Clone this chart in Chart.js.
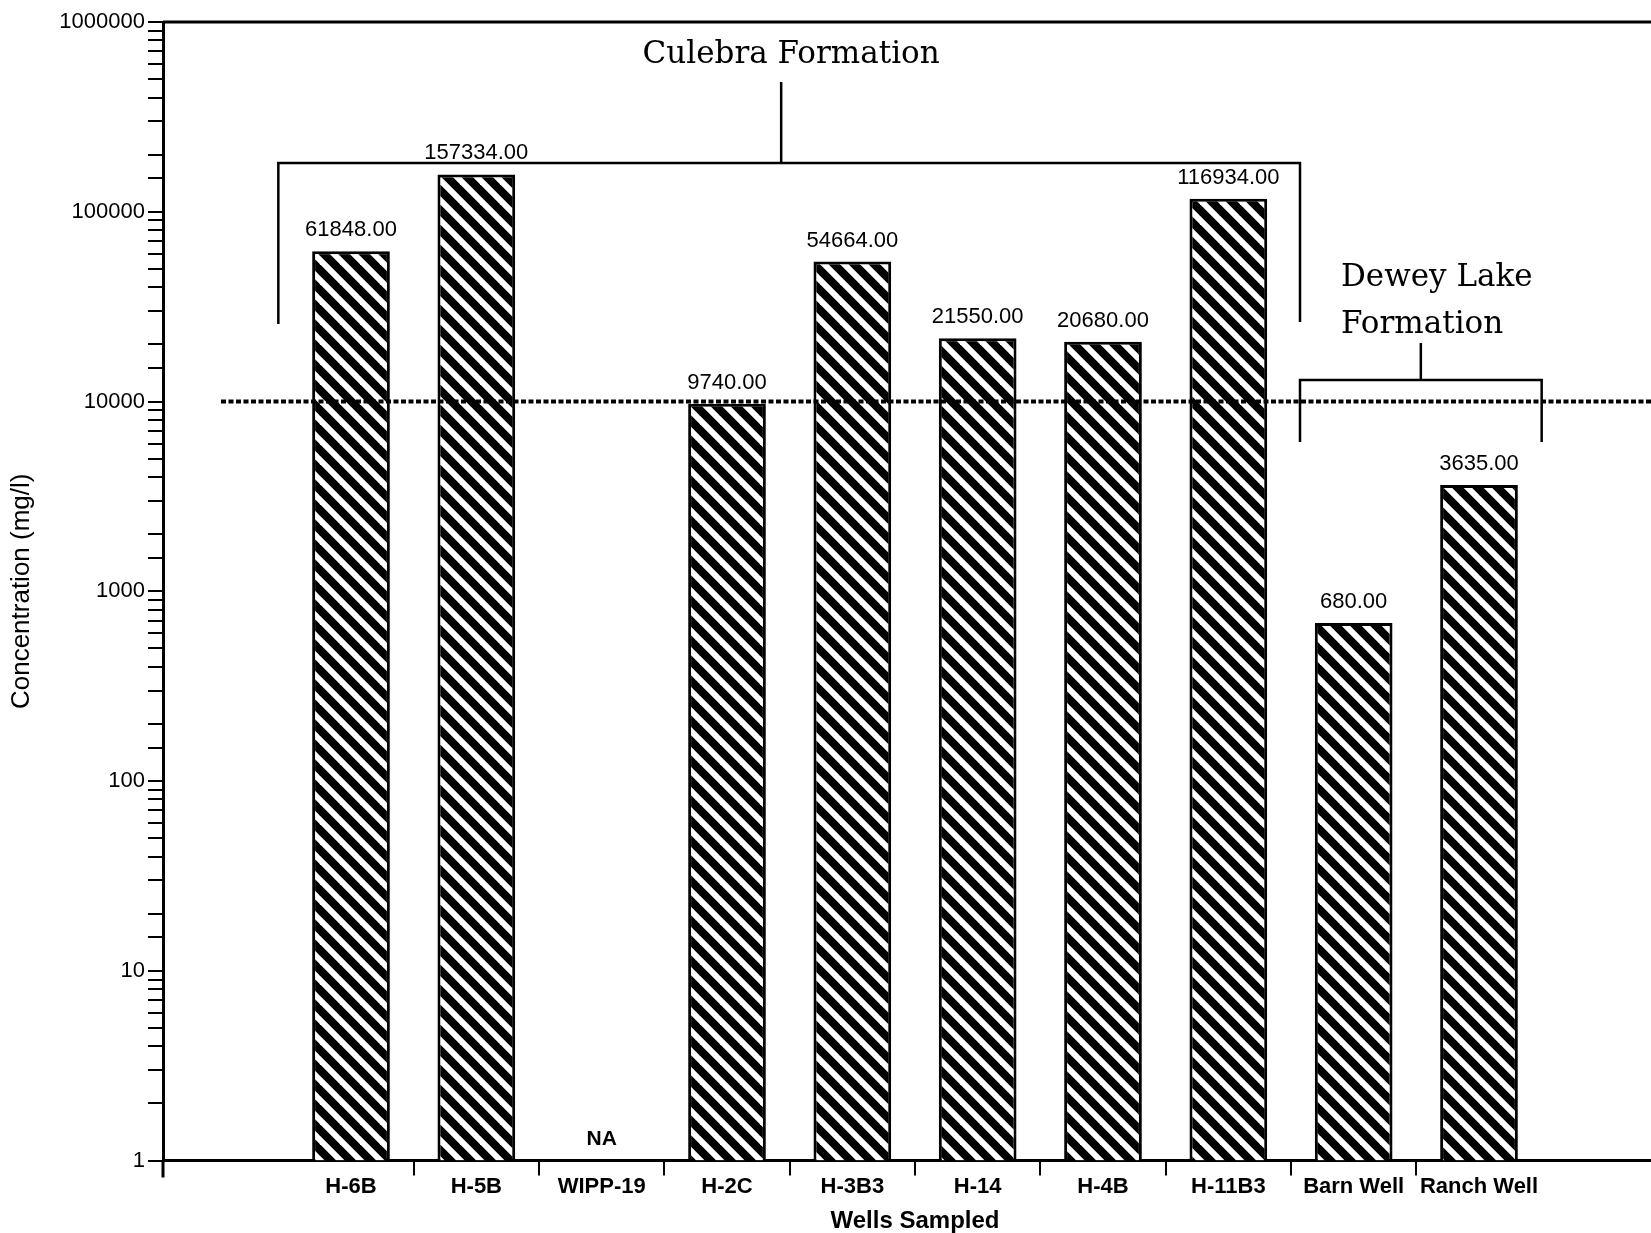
<!DOCTYPE html>
<html>
<head>
<meta charset="utf-8">
<script src="https://cdn.jsdelivr.net/npm/chart.js@4.4.1/dist/chart.umd.min.js"></script>
<style>
  html, body { margin: 0; padding: 0; background: #fff; overflow: hidden; }
  #wrap { width: 1670px; height: 1233px; position: relative; }
</style>
</head>
<body>
<div id="wrap"><canvas id="chart"></canvas></div>
<script>
// Wells sampled (blank slots at both ends as in the original plot)
const wells = ['', 'H-6B', 'H-5B', 'WIPP-19', 'H-2C', 'H-3B3', 'H-14', 'H-4B', 'H-11B3', 'Barn Well', 'Ranch Well', ''];
// Concentration (mg/l), null = not plotted
const concentration = [null, 61848, 157334, null, 9740, 54664, 21550, 20680, 116934, 680, 3635, null];
// wells with no analysis
const naWells = ['WIPP-19'];
const yTickLabels = ['1', '10', '100', '1000', '10000', '100000', '1000000'];
const referenceLevel = 10000;

// hatch fill for the bars
function hatch() {
  const s = 20;
  const c = document.createElement('canvas');
  c.width = s; c.height = s;
  const g = c.getContext('2d');
  g.fillStyle = '#000';
  g.fillRect(0, 0, s, s);
  g.strokeStyle = '#fff';
  g.lineWidth = 6;
  for (let k = -1; k <= 1; k++) {
    g.beginPath();
    g.moveTo(k * s - 5, -5);
    g.lineTo(k * s + s + 5, s + 5);
    g.stroke();
  }
  return g.createPattern(c, 'repeat');
}

const annotations = {
  id: 'annotations',
  afterDatasetsDraw(chart) {
    const ctx = chart.ctx;
    const area = chart.chartArea;
    const x = chart.scales.x;
    const y = chart.scales.y;
    const step = x.getPixelForValue(1) - x.getPixelForValue(0);
    ctx.save();

    // top frame line and axis extension
    ctx.strokeStyle = '#000';
    ctx.lineWidth = 3;
    ctx.beginPath();
    ctx.moveTo(area.left, area.top);
    ctx.lineTo(chart.width, area.top);
    ctx.moveTo(area.left, area.bottom);
    ctx.lineTo(area.left, area.bottom + 17);
    ctx.stroke();

    // dotted reference line
    const yRef = y.getPixelForValue(referenceLevel);
    ctx.lineWidth = 4;
    ctx.setLineDash([5, 2.5]);
    ctx.beginPath();
    ctx.moveTo(area.left + 58, yRef);
    ctx.lineTo(chart.width, yRef);
    ctx.stroke();
    ctx.setLineDash([]);

    // value labels
    ctx.fillStyle = '#000';
    ctx.textAlign = 'center';
    ctx.textBaseline = 'alphabetic';
    ctx.font = '22px "Liberation Sans", Arial, sans-serif';
    const meta = chart.getDatasetMeta(0);
    concentration.forEach((v, i) => {
      if (v == null) return;
      const bar = meta.data[i];
      ctx.fillText(v.toFixed(2), bar.x, bar.y - 15);
    });
    ctx.font = 'bold 21px "Liberation Sans", Arial, sans-serif';
    naWells.forEach(w => {
      const i = wells.indexOf(w);
      ctx.fillText('NA', x.getPixelForValue(i), y.getPixelForValue(1) - 16);
    });

    // formation brackets
    ctx.lineWidth = 2.5;
    const c1 = x.getPixelForValue(1) - step / 2 - 10;
    const c2 = x.getPixelForValue(8) + step / 2 + 9;
    const d1 = c2;
    const d2 = x.getPixelForValue(10) + step / 2;
    const cm = (c1 + c2) / 2 - 8;
    ctx.beginPath();
    ctx.moveTo(c1, 324); ctx.lineTo(c1, 163); ctx.lineTo(c2, 163); ctx.lineTo(c2, 322);
    ctx.moveTo(cm, 163); ctx.lineTo(cm, 82);
    ctx.moveTo(d1, 442); ctx.lineTo(d1, 380); ctx.lineTo(d2, 380); ctx.lineTo(d2, 442);
    ctx.moveTo((d1 + d2) / 2, 380); ctx.lineTo((d1 + d2) / 2, 343);
    ctx.stroke();

    ctx.font = '31px "DejaVu Serif", serif';
    ctx.textAlign = 'center';
    ctx.fillText('Culebra Formation', (c1 + c2) / 2 + 2, 63);
    ctx.textAlign = 'left';
    ctx.fillText('Dewey Lake', 1341, 286);
    ctx.fillText('Formation', 1341, 333);
    ctx.restore();
  }
};

new Chart(document.getElementById('chart'), {
  type: 'bar',
  data: {
    labels: wells,
    datasets: [{
      data: concentration,
      backgroundColor: hatch(),
      borderColor: '#000',
      borderWidth: 3,
      barPercentage: 0.62,
      categoryPercentage: 1
    }]
  },
  options: {
    responsive: true,
    maintainAspectRatio: false,
    animation: false,
    layout: { padding: { top: 22, right: 3, bottom: 0, left: 0 } },
    plugins: { legend: { display: false }, tooltip: { enabled: false } },
    scales: {
      x: {
        grid: {
          drawOnChartArea: false,
          tickLength: 15,
          lineWidth: 2,
          color: (c) => (c.index >= 2 && c.index <= 10 ? '#000' : 'rgba(0,0,0,0)')
        },
        border: { display: true, color: '#000', width: 3 },
        ticks: {
          color: '#000',
          padding: -2,
          autoSkip: false,
          maxRotation: 0,
          font: { family: '"Liberation Sans", Arial, sans-serif', size: 22, weight: 'bold' }
        },
        title: {
          display: true,
          text: 'Wells Sampled',
          color: '#000',
          padding: { top: 11, bottom: 0 },
          font: { family: '"Liberation Sans", Arial, sans-serif', size: 24, weight: 'bold', lineHeight: 1 }
        }
      },
      y: {
        type: 'logarithmic',
        min: 1,
        max: 1000000,
        afterFit: (s) => { s.width = 163; },
        grid: { drawOnChartArea: false, tickLength: 15, lineWidth: 2, color: '#000' },
        border: { display: true, color: '#000', width: 3 },
        ticks: {
          color: '#000',
          padding: 3,
          autoSkip: false,
          font: { family: '"Liberation Sans", Arial, sans-serif', size: 22 },
          callback: (v) => (yTickLabels.includes(String(v)) ? String(v) : '')
        },
        title: {
          display: true,
          text: 'Concentration (mg/l)',
          color: '#000',
          padding: { top: 6, bottom: 0 },
          font: { family: '"Liberation Sans", Arial, sans-serif', size: 26 }
        }
      }
    }
  },
  plugins: [annotations]
});
</script>
</body>
</html>
